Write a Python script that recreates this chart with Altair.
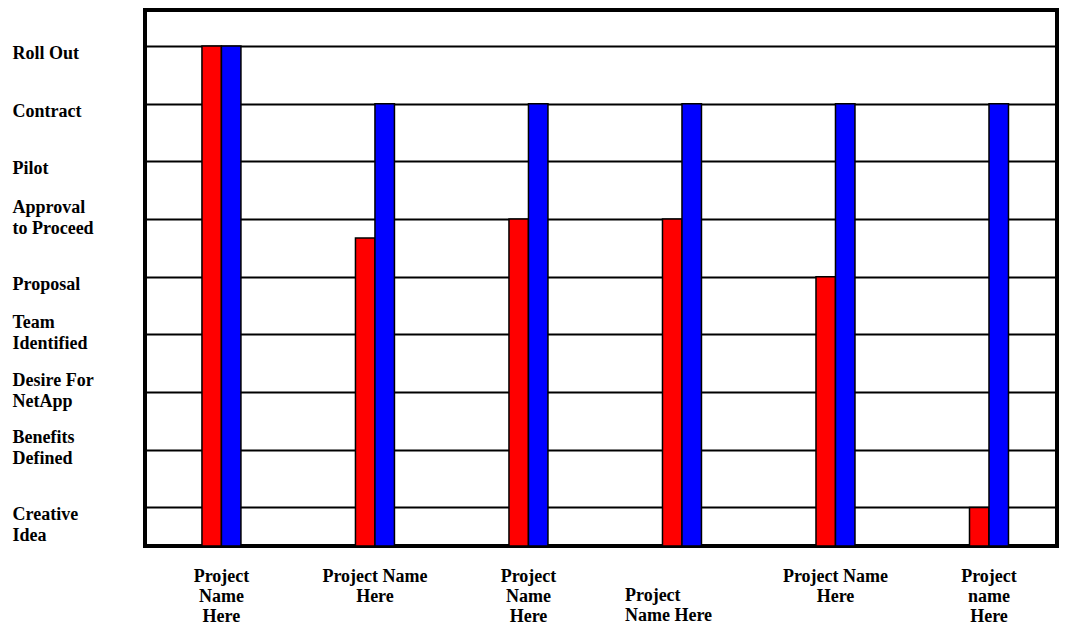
import altair as alt
import pandas as pd

# ---- data ----
projects = ["P1", "P2", "P3", "P4", "P5", "P6"]
project_labels = [
    ["Project", "Name", "Here"],
    ["Project Name", "Here"],
    ["Project", "Name", "Here"],
    ["Project", "Name Here"],
    ["Project Name", "Here"],
    ["Project", "name", "Here"],
]
stage_values = [1, 2, 3, 4, 5, 6, 7, 8, 9]
stage_labels = [
    ["Creative", "Idea"],
    ["Benefits", "Defined"],
    ["Desire For", "NetApp"],
    ["Team", "Identified"],
    ["Proposal"],
    ["Approval", "to Proceed"],
    ["Pilot"],
    ["Contract"],
    ["Roll Out"],
]
series_names = ["Current", "Target"]
series_colors = ["#FF0000", "#0000FF"]
current_values = [9, 5.67, 6, 6, 5, 1]
target_values = [9, 8, 8, 8, 8, 8]

rows = []
for p, c, t in zip(projects, current_values, target_values):
    rows.append({"project": p, "series": series_names[0], "value": c})
    rows.append({"project": p, "series": series_names[1], "value": t})
df = pd.DataFrame(rows)


def js_list(items):
    return "[" + ",".join("'" + s + "'" for s in items) + "]"


x_label_expr = "[" + ",".join(js_list(l) for l in project_labels) + "][indexof(" + js_list(projects) + ", datum.value)]"
y_label_expr = "[" + ",".join(js_list(l) for l in stage_labels) + "][datum.value - 1]"
two_line_stages = [v for v, l in zip(stage_values, stage_labels) if len(l) == 2 and v != 1]
two_line_test = "indexof([" + ",".join(str(v) for v in two_line_stages) + "], datum.value) >= 0"

chart = (
    alt.Chart(df, background="white")
    .mark_bar(stroke="black", strokeWidth=1.5)
    .encode(
        x=alt.X(
            "project:N",
            sort=projects,
            scale=alt.Scale(paddingInner=0.746, paddingOuter=0.3435, align=0.54),
            axis=alt.Axis(
                title=None,
                labelAngle=0,
                labelExpr=x_label_expr,
                ticks=False,
                tickSize=0,
                domain=False,
                grid=False,
                labelBaseline="top",
                labelLineHeight=20,
                labelAlign={"condition": {"test": "datum.value == 'P4'", "value": "left"}, "value": "center"},
                labelOffset={"condition": {"test": "datum.value == 'P4'", "value": -57}, "value": 0},
                labelPadding={"condition": {"test": "datum.value == 'P4'", "value": 40}, "value": 21},
            ),
        ),
        xOffset=alt.XOffset("series:N", sort=series_names, scale=alt.Scale(paddingInner=0, paddingOuter=0)),
        y=alt.Y(
            "value:Q",
            scale=alt.Scale(domain=[0.332, 9.625], nice=False, zero=False, clamp=True),
            axis=alt.Axis(
                title=None,
                values=stage_values,
                labelExpr=y_label_expr,
                ticks=False,
                tickSize=0,
                domain=False,
                grid=True,
                gridColor="black",
                gridWidth=2,
                gridOpacity=1,
                labelAlign="left",
                labelPadding=133,
                labelLineHeight=21,
                labelBaseline="bottom",
                labelOffset={"condition": {"test": two_line_test, "value": -3}, "value": 16.5},
            ),
        ),
        color=alt.Color(
            "series:N",
            scale=alt.Scale(domain=series_names, range=series_colors),
            legend=None,
        ),
    )
    .properties(
        width=912,
        height=536,
        padding={"left": 137, "top": 2, "right": 2, "bottom": 84},
        autosize=alt.AutoSizeParams(type="none"),
    )
    .configure_view(stroke="black", strokeWidth=4)
    .configure_axis(
        labelFont="Liberation Serif",
        labelFontWeight="bold",
        labelFontSize=18,
        labelColor="black",
        labelOverlap=False,
        labelLimit=0,
        labelBound=False,
    )
)

chart.save("out.html", embed_options={"renderer": "svg", "actions": False})
